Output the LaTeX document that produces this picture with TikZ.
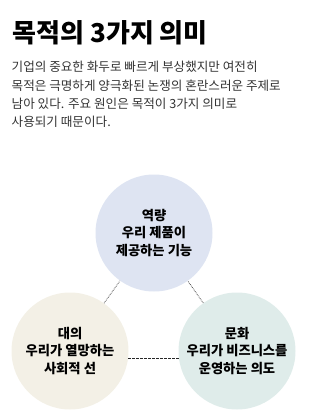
\documentclass[tikz,border=0pt]{standalone}
\usepackage{fontspec}
\setmainfont{Noto Sans CJK KR}
\definecolor{capblue}{HTML}{DEE4F2}
\definecolor{dialcream}{HTML}{F3F0E6}
\definecolor{culteal}{HTML}{DFECEA}
\definecolor{bodygray}{HTML}{333333}
\tikzset{
	meaning/.style={circle, minimum size=117pt, inner sep=0pt, align=center,
		font=\bfseries\fontsize{13.3}{17.5}\selectfont},
	link/.style={line width=0.7pt, black!85}
}
\begin{document}
\begin{tikzpicture}[x=1pt, y=-1pt]
		\useasboundingbox (0,0) rectangle (308,414);
		% title and intro text
		\node[anchor=west, font=\bfseries\fontsize{26}{30}\selectfont] (title) at (9,33) {목적의 3가지 의미};
		\node[anchor=north west, align=left, text=bodygray, inner sep=0pt,
			font=\fontsize{12.6}{18.4}\selectfont] (intro) at (11.5,61)
			{기업의 중요한 화두로 빠르게 부상했지만 여전히\\
			 목적은 극명하게 양극화된 논쟁의 혼란스러운 주제로\\
			 남아 있다. 주요 원인은 목적이 3가지 의미로\\
			 사용되기 때문이다.};
		% the three meanings
		\node[meaning, fill=capblue] (yeokryang) at (154,233) {역량\\우리 제품이\\제공하는 기능};
		\node[meaning, fill=dialcream] (daeui) at (70,351) {대의\\우리가 열망하는\\사회적 선};
		\node[meaning, fill=culteal] (munhwa) at (237,351) {문화\\우리가 비즈니스를\\운영하는 의도};
		% connectors
		\draw[link, densely dotted] (daeui) -- (yeokryang);
		\draw[link, densely dotted] (munhwa) -- (yeokryang);
		\draw[link, dash pattern=on 2.5pt off 1.5pt] (daeui.-7) -- (munhwa.187);
	\end{tikzpicture}
\end{document}
